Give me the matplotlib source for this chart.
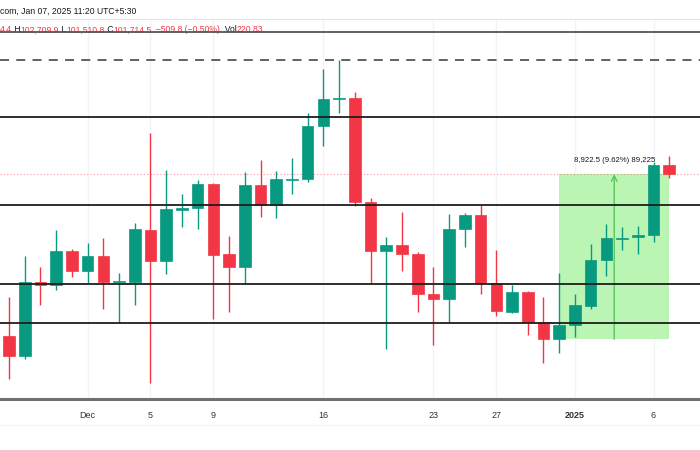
import numpy as np
import pandas as pd
import matplotlib
matplotlib.use('Agg')
import matplotlib.pyplot as plt
import matplotlib.dates as mdates
from matplotlib.patches import Rectangle

plt.rcParams['font.family'] = ['Liberation Sans', 'DejaVu Sans']

# Velas diarias BTC/USDT, 26 nov 2024 -> 7 jan 2025
dates = pd.date_range('2024-11-26', '2025-01-07', freq='D')
opens = [92970, 91890, 95890, 95730, 97570, 96490, 97300, 95890, 95910, 98700,
         97010, 99780, 99880, 101170, 97390, 96690, 101140, 100060, 101400, 101440,
         104310, 105790, 105860, 100230, 97570, 97890, 97390, 95240, 94960, 98740,
         99500, 95850, 94290, 95370, 93750, 92792, 93570, 94590, 97080, 98230,
         98320, 98420, 102224.4]
highs = [95080, 97300, 96700, 98700, 97650, 98020, 98270, 96390, 99080, 103950,
         101950, 100650, 101410, 101240, 98380, 101860, 102490, 101890, 102610, 105010,
         107390, 107900, 106180, 100450, 98340, 99690, 97510, 96690, 99570, 99640,
         100060, 97620, 95730, 95420, 95100, 96390, 95230, 97930, 99030, 98880,
         98920, 102380, 102709.9]
lows = [90650, 91740, 94650, 95460, 96180, 95840, 94450, 93690, 94650, 90450,
        96320, 98880, 98740, 93870, 94290, 95770, 99420, 99340, 100650, 101310,
        103250, 105010, 100000, 95780, 92250, 96500, 94290, 92470, 93660, 97770,
        95240, 94050, 94200, 93030, 91500, 92040, 92930, 94430, 96220, 97620,
        97390, 98050, 101510.8]
closes = [91890, 95890, 95710, 97570, 96490, 97300, 95890, 95920, 98740, 97010,
          99820, 99910, 101170, 97350, 96690, 101150, 100060, 101440, 101460, 104310,
          105800, 105860, 100230, 97570, 97890, 97390, 95240, 94960, 98740, 99500,
          95850, 94320, 95370, 93750, 92792, 93570, 94630, 97080, 98250, 98290,
          98420, 102224.4, 101714.5]

# linhas horizontais desenhadas no grafico
solid_lines = [104797, 100055, 95767, 93674]
top_line = 109392
ath_line = 107895
last_price = 101714.5

# ferramenta de medicao
measure_start = '2024-12-31'
measure_end = '2025-01-07'
measure_low = 92792
measure_high = 101714.5
measure_label = '8,922.5 (9.62%) 89,225'

tick_dates = ['2024-12-01', '2024-12-05', '2024-12-09', '2024-12-16',
              '2024-12-23', '2024-12-27', '2025-01-01', '2025-01-06']
tick_labels = ['Dec', '5', '9', '16', '23', '27', '2025', '6']

up = '#089981'
down = '#F23645'
dark = '#131722'

fig = plt.figure(figsize=(7, 4.5), dpi=100)
ax = fig.add_axes([0, 0.114, 1, 0.844])

x = mdates.date2num(dates)
width = 0.74
min_h = 60
for xi, o, h, l, c in zip(x, opens, highs, lows, closes):
    col = up if c >= o else down
    ax.vlines(xi, l, h, color=col, lw=1, zorder=3)
    bottom = min(o, c)
    hgt = max(abs(c - o), min_h)
    ax.add_patch(Rectangle((xi - width / 2, bottom), width, hgt,
                           facecolor=col, edgecolor=col, lw=0.5, zorder=4))

# grade vertical fraca
for d in tick_dates:
    ax.axvline(mdates.date2num(pd.Timestamp(d)), color='#f0f3fa', lw=1, zorder=0)

for p in solid_lines:
    ax.axhline(p, color='#1e1e1e', lw=1.3, zorder=5)
ax.axhline(top_line, color='#555555', lw=1.3, zorder=5)
ax.axhline(ath_line, color='#555555', lw=1.3, ls=(0, (5, 4)), zorder=5)
ax.axhline(last_price, color=down, lw=0.8, ls=(0, (1, 2)), alpha=0.5, zorder=2)

# caixa da medicao
x0 = mdates.date2num(pd.Timestamp(measure_start))
x1 = mdates.date2num(pd.Timestamp(measure_end))
ax.add_patch(Rectangle((x0, measure_low), x1 - x0, measure_high - measure_low,
                       facecolor='#bbf5b3', edgecolor='none', zorder=1))
xm = (x0 + x1) / 2
ax.annotate('', xy=(xm, measure_high), xytext=(xm, measure_low),
            arrowprops=dict(arrowstyle='->', color='#5cc65c', lw=1,
                            shrinkA=0, shrinkB=0), zorder=2)
ax.text(xm, measure_high + 720, measure_label, ha='center', va='center',
        fontsize=5.6, color=dark, zorder=6)

x_start = x[0] - 0.573
ax.set_xlim(x_start, x_start + 44.53)
ax.set_ylim(89581, 110111)
ax.set_xticks([])
ax.set_yticks([])
for s in ['left', 'right']:
    ax.spines[s].set_visible(False)
ax.spines['top'].set_color('#e0e3eb')
ax.spines['top'].set_linewidth(0.8)
ax.spines['bottom'].set_color('#707070')
ax.spines['bottom'].set_linewidth(2.2)

trans = matplotlib.transforms.blended_transform_factory(ax.transData, ax.transAxes)
for d, lab in zip(tick_dates, tick_labels):
    ax.text(mdates.date2num(pd.Timestamp(d)), -0.043, lab, transform=trans,
            ha='center', va='center', fontsize=6.5, color='#333333',
            fontweight='bold' if lab == '2025' else 'normal', clip_on=False)

fig.add_artist(plt.Line2D([0, 1], [1 - 425 / 450] * 2, color='#f0f3fa', lw=0.8))

# cabecalho
fig.text(0, 1 - 11 / 450, 'com, Jan 07, 2025 11:20 UTC+5:30', fontsize=6.2,
         color=dark, va='center', ha='left')
pieces = [('4.4', down), (' H', dark), ('102,709.9', down), (' L', dark),
          ('101,510.8', down), (' C', dark), ('101,714.5', down),
          ('  \u2212509.8 (\u22120.50%)', down), ('  Vol', dark), ('220.83', down)]
t = fig.text(0, 1 - 30 / 450, pieces[0][0], fontsize=6.2, color=pieces[0][1],
             va='center', ha='left')
# cada pedaco comeca onde o anterior termina
for s, c in pieces[1:]:
    t = plt.annotate(s, xy=(1, 0), xycoords=t, va='bottom', ha='left',
                     fontsize=6.2, color=c, annotation_clip=False)

plt.savefig('out.png', dpi=100)
